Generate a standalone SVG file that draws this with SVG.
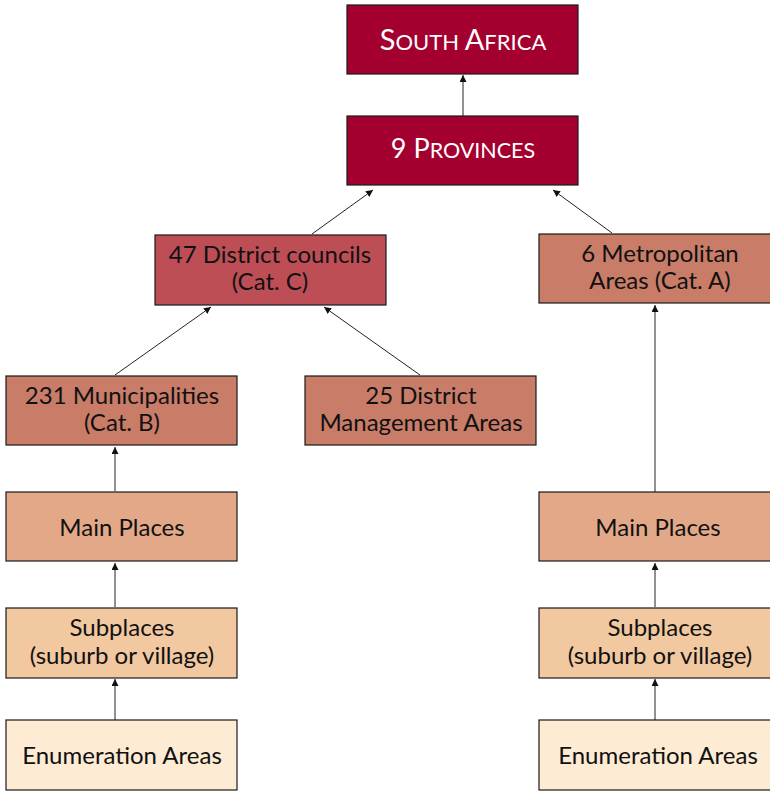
<svg xmlns="http://www.w3.org/2000/svg" width="770" height="791" viewBox="0 0 770 791">
<style>
.box{stroke:#1a1a1a;stroke-width:1.2}
.t{font-family:Lato,"Liberation Sans",sans-serif;font-size:24px;fill:#111;text-anchor:middle}
.w{fill:#fff}
.c1{fill:#a30030}
.c2{fill:#bd4e55}
.c3{fill:#c97c68}
.c4{fill:#e3a888}
.c5{fill:#f2c8a0}
.c6{fill:#fdebd3}
.cn{stroke:#222;stroke-width:1;fill:none;marker-end:url(#ah)}
</style>
<defs>
<marker id="ah" viewBox="0 0 10 10" refX="10" refY="5" markerWidth="7" markerHeight="7" markerUnits="userSpaceOnUse" orient="auto">
<path d="M0,0 L10,5 L0,10 z" fill="#111"/>
</marker>
</defs>
<g id="connectors">
<line class="cn" x1="463" y1="116" x2="463" y2="75"/>
<line class="cn" x1="312" y1="234" x2="373" y2="190"/>
<line class="cn" x1="612" y1="233" x2="553" y2="190"/>
<line class="cn" x1="115" y1="375" x2="211" y2="307"/>
<line class="cn" x1="420" y1="375" x2="324" y2="307"/>
<line class="cn" x1="115" y1="491" x2="115" y2="447"/>
<line class="cn" x1="115" y1="607" x2="115" y2="563"/>
<line class="cn" x1="115" y1="720" x2="115" y2="679"/>
<line class="cn" x1="655" y1="492" x2="655" y2="305"/>
<line class="cn" x1="655" y1="607" x2="655" y2="563"/>
<line class="cn" x1="655" y1="720" x2="655" y2="679"/>
</g>
<g id="south-africa">
<rect class="box c1" x="347" y="5" width="231" height="69"/>
<text class="t w" x="463" y="50"><tspan font-size="29">S</tspan><tspan font-size="22">OUTH </tspan><tspan font-size="29">A</tspan><tspan font-size="22">FRICA</tspan></text>
</g>
<g id="provinces">
<rect class="box c1" x="347" y="116" width="231" height="69"/>
<text class="t w" x="463" y="158"><tspan font-size="27">9 P</tspan><tspan font-size="21.5">ROVINCES</tspan></text>
</g>
<g id="district-councils">
<rect class="box c2" x="155" y="235" width="231" height="70"/>
<text class="t" x="270" y="263">47 District councils</text>
<text class="t" x="270" y="290">(Cat. C)</text>
</g>
<g id="metropolitan">
<rect class="box c3" x="539" y="234" width="232" height="69"/>
<text class="t" x="660" y="262">6 Metropolitan</text>
<text class="t" x="660" y="289">Areas (Cat. A)</text>
</g>
<g id="municipalities">
<rect class="box c3" x="6" y="376" width="231" height="69"/>
<text class="t" x="122" y="404">231 Municipalities</text>
<text class="t" x="122" y="431">(Cat. B)</text>
</g>
<g id="dma">
<rect class="box c3" x="305" y="376" width="231" height="69"/>
<text class="t" x="421" y="404">25 District</text>
<text class="t" x="421" y="431">Management Areas</text>
</g>
<g id="main-places-left">
<rect class="box c4" x="6" y="492" width="231" height="69"/>
<text class="t" x="122" y="536">Main Places</text>
</g>
<g id="main-places-right">
<rect class="box c4" x="539" y="492" width="232" height="69"/>
<text class="t" x="658" y="536">Main Places</text>
</g>
<g id="subplaces-left">
<rect class="box c5" x="6" y="608" width="231" height="70"/>
<text class="t" x="122" y="636">Subplaces</text>
<text class="t" x="122" y="664">(suburb or village)</text>
</g>
<g id="subplaces-right">
<rect class="box c5" x="539" y="608" width="232" height="70"/>
<text class="t" x="660" y="636">Subplaces</text>
<text class="t" x="660" y="664">(suburb or village)</text>
</g>
<g id="enumeration-left">
<rect class="box c6" x="6" y="720" width="231" height="70"/>
<text class="t" x="122" y="764">Enumeration Areas</text>
</g>
<g id="enumeration-right">
<rect class="box c6" x="539" y="720" width="232" height="70"/>
<text class="t" x="658" y="764">Enumeration Areas</text>
</g>
</svg>
